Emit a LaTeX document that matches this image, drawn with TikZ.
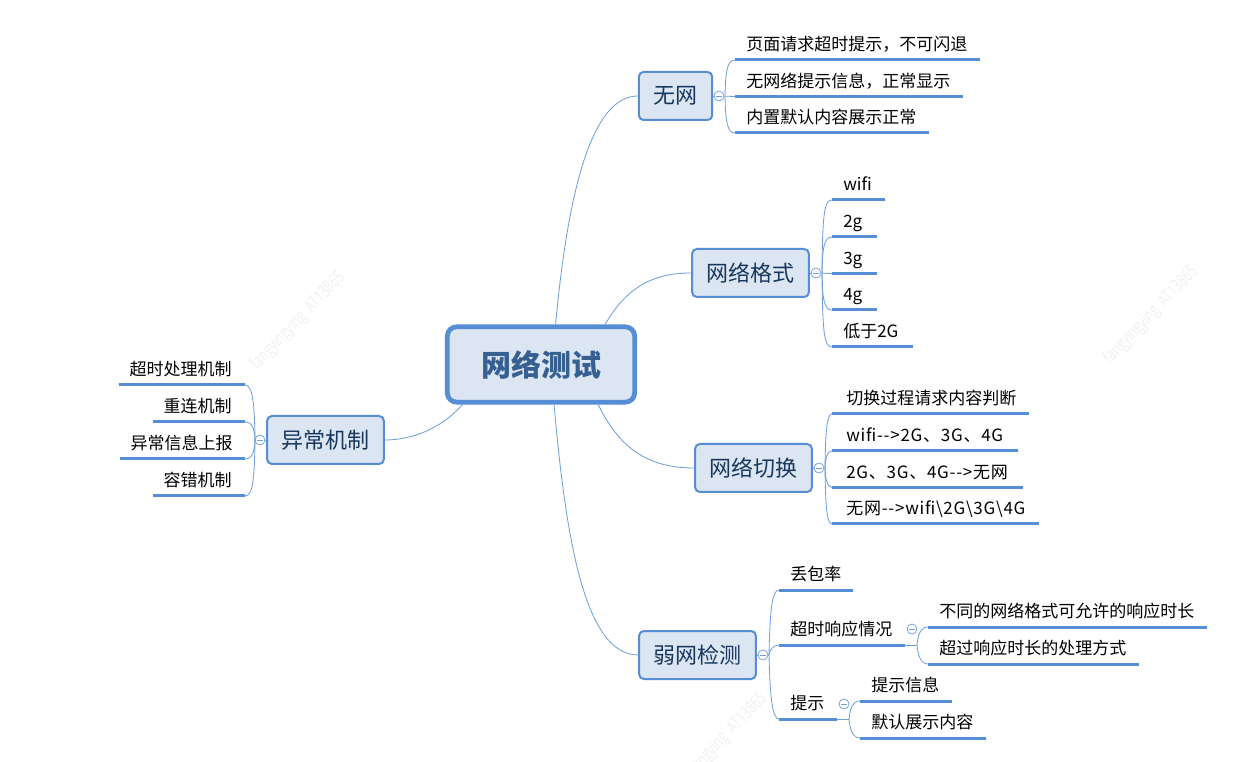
\documentclass[tikz,border=0pt]{standalone}
\usepackage{fontspec}
\setmainfont{Noto Sans CJK SC}
\newfontfamily\wmfont[FakeStretch=0.68]{Open Sans}
\definecolor{mmline}{HTML}{558ED5}
\definecolor{mmthin}{HTML}{6F9FDB}
\definecolor{mmfill}{HTML}{DCE6F2}
\definecolor{mmtext}{HTML}{17375E}
\definecolor{mmroot}{HTML}{376092}
\tikzset{
  x=0.75pt,y=-0.75pt,
  rootbox/.style={draw=mmline,fill=mmfill,line width=3.6pt,rounded corners=7pt,inner sep=0pt,
    minimum width=140.5pt,minimum height=56.5pt,font=\fontsize{22.5}{26}\selectfont\bfseries,text=mmroot},
  mainbox/.style={draw=mmline,fill=mmfill,line width=1.5pt,rounded corners=3.5pt,inner sep=0pt,
    minimum height=36pt,font=\fontsize{16.5}{20}\selectfont,text=mmtext},
  leaftext/.style={inner sep=0pt,font=\fontsize{12.75}{15}\selectfont,text=black},
  bar/.style={draw=mmline,line width=2.25pt},
  link/.style={draw=mmthin,line width=0.62pt},
  toggle/.style={circle,draw=mmthin,fill=white,line width=0.55pt,minimum size=7.5pt,inner sep=0pt},
  wmark/.style={font=\wmfont\fontsize{13.5}{15}\selectfont,text=black!6,rotate=46,inner sep=0pt}
}
\newcommand{\wider}[1]{{\addfontfeature{LetterSpace=4.4}#1}}
\newcommand{\low}[2]{\raisebox{-#1}{#2}}
% name, x of curve end, x of far end, y of bar, x of text, text
\newcommand{\leafR}[6]{%
  \coordinate (#1a) at (#2,#4);
  \coordinate (#1b) at (#3,#4);
  \draw[bar] (#1a) -- (#1b);
  \node[leaftext,anchor=base west] (#1) at (#5,#4-9.4) {#6};
}
\newcommand{\leafL}[6]{%
  \coordinate (#1a) at (#2,#4);
  \coordinate (#1b) at (#3,#4);
  \draw[bar] (#1a) -- (#1b);
  \node[leaftext,anchor=base east] (#1) at (#5,#4-9.4) {#6};
}
\newcommand{\toggleat}[3]{%
  \node[toggle] (#1) at (#2,#3) {};
  \draw[draw=mmthin,line width=0.55pt] ([xshift=-2pt]#1.center) -- ([xshift=2pt]#1.center);
}
\begin{document}
\begin{tikzpicture}
\useasboundingbox (0,0) rectangle (1260,762);
\fill[white] (0,0) rectangle (1260,762);
% faint marks
\node[wmark] (w1) at (1151,315) {fangyingying\ \ AT13865};
\node[wmark] (w2) at (298,321) {fangyingying\ \ AT13865};
\node[wmark] (w3) at (720,742) {fangyingying\ \ AT13865};

% centre and main topics
\node[rootbox] (root) at (541,364.5) {\low{2pt}{网络测试}};
\node[mainbox,minimum width=55pt] (wu) at (675.5,96) {\low{1.6pt}{无网}};
\node[mainbox,minimum width=87.5pt] (ge) at (750.5,273) {\low{1.6pt}{网络格式}};
\node[mainbox,minimum width=87.5pt] (qie) at (753.5,468) {\low{1.6pt}{网络切换}};
\node[mainbox,minimum width=87.5pt] (ruo) at (697.5,655) {\low{1.6pt}{弱网检测}};
\node[mainbox,minimum width=87.5pt] (yi) at (325.5,440) {\low{1.6pt}{异常机制}};

\draw[link] (root.70) .. controls (568,190) and (592,96) .. (wu.west);
\draw[link] (root.32) .. controls (625,290) and (650,273) .. (ge.west);
\draw[link] (root.-35) .. controls (620,450) and (650,468) .. (qie.west);
\draw[link] (root.-72) .. controls (566,540) and (585,655) .. (ruo.west);
\draw[link] (root.207) .. controls (440,430) and (410,440) .. (yi.east);

% wu
\toggleat{twu}{719}{96}
\draw[link] (wu.east) -- (twu);
\coordinate (fwu) at (725,96);
\leafR{a1}{735}{980}{60}{746}{页面请求超时提示，不可闪退}
\leafR{a2}{735}{963}{96.5}{746}{无网络提示信息，正常显示}
\leafR{a3}{735}{929}{133}{746}{内置默认内容展示正常}
\draw[link] (twu) -- (a2a);
\draw[link] (fwu) .. controls (725.5,72) and (727,60) .. (a1a);
\draw[link] (fwu) .. controls (725.5,120) and (727,133) .. (a3a);

% ge
\toggleat{tge}{816}{273}
\draw[link] (ge.east) -- (tge);
\coordinate (fge) at (822,273);
\leafR{b1}{832}{885}{200}{843}{wifi}
\leafR{b2}{832}{877}{237}{843}{2g}
\leafR{b3}{832}{877}{273.5}{843}{3g}
\leafR{b4}{832}{877}{310}{843}{4g}
\leafR{b5}{832}{913}{347}{843}{低于2G}
\draw[link] (tge) -- (b3a);
\draw[link] (fge) .. controls (822.5,215) and (824,200) .. (b1a);
\draw[link] (fge) .. controls (822.5,248) and (824,237) .. (b2a);
\draw[link] (fge) .. controls (822.5,299) and (824,310) .. (b4a);
\draw[link] (fge) .. controls (822.5,332) and (824,347) .. (b5a);

% qie
\toggleat{tqie}{819}{468}
\draw[link] (qie.east) -- (tqie);
\coordinate (fqie) at (825,468);
\leafR{c1}{832}{1029}{414}{846}{切换过程请求内容判断}
\leafR{c2}{832}{1018}{451}{846}{\wider{wifi-{}->2G、3G、4G}}
\leafR{c3}{832}{1023}{487.5}{846}{\wider{2G、3G、4G-{}->无网}}
\leafR{c4}{832}{1039}{524}{846}{\wider{无网-{}->wifi\textbackslash 2G\textbackslash 3G\textbackslash 4G}}
\draw[link] (fqie) .. controls (825.5,430) and (827,414) .. (c1a);
\draw[link] (fqie) .. controls (825.5,458) and (827,451) .. (c2a);
\draw[link] (fqie) .. controls (825.5,478) and (827,487.5) .. (c3a);
\draw[link] (fqie) .. controls (825.5,508) and (827,524) .. (c4a);
\draw[link] (tqie) -- (fqie);

% ruo
\toggleat{truo}{763}{655}
\draw[link] (ruo.east) -- (truo);
\coordinate (fruo) at (769,655);
\leafR{d1}{779}{853}{590}{790}{丢包率}
\leafR{d2}{779}{905}{645}{790}{超时响应情况}
\leafR{d3}{779}{837}{719}{790}{提示}
\draw[link] (truo) -- (fruo);
\draw[link] (fruo) .. controls (770,610) and (772,590) .. (d1a);
\draw[link] (fruo) .. controls (770,650) and (773,645) .. (d2a);
\draw[link] (fruo) .. controls (770,695) and (772,719) .. (d3a);

% d2 children
\toggleat{td2}{912}{629}
\coordinate (fd2) at (917,645);
\leafR{e1}{928}{1207}{627}{939}{不同的网络格式可允许的响应时长}
\leafR{e2}{928}{1139}{664}{939}{超过响应时长的处理方式}
\draw[link] (d2b) -- (fd2);
\draw[link] (fd2) .. controls (918,634) and (921,627) .. (e1a);
\draw[link] (fd2) .. controls (918,656) and (921,664) .. (e2a);

% d3 children
\toggleat{td3}{844}{704}
\coordinate (fd3) at (849,719);
\leafR{f1}{860}{952}{701}{871}{提示信息}
\leafR{f2}{860}{986}{738}{871}{默认展示内容}
\draw[link] (d3b) -- (fd3);
\draw[link] (fd3) .. controls (850,708) and (853,701) .. (f1a);
\draw[link] (fd3) .. controls (850,730) and (853,738) .. (f2a);

% yi
\toggleat{tyi}{260}{440}
\draw[link] (yi.west) -- (tyi);
\coordinate (fyi) at (255,440);
\leafL{g1}{245}{119}{385}{232}{超时处理机制}
\leafL{g2}{245}{153}{422}{232}{重连机制}
\leafL{g3}{245}{120}{459}{233}{异常信息上报}
\leafL{g4}{245}{153}{496}{232}{容错机制}
\draw[link] (tyi) -- (fyi);
\draw[link] (fyi) .. controls (254.5,405) and (253,385) .. (g1a);
\draw[link] (fyi) .. controls (254.5,430) and (253,422) .. (g2a);
\draw[link] (fyi) .. controls (254.5,450) and (253,459) .. (g3a);
\draw[link] (fyi) .. controls (254.5,478) and (253,496) .. (g4a);
\end{tikzpicture}
\end{document}
